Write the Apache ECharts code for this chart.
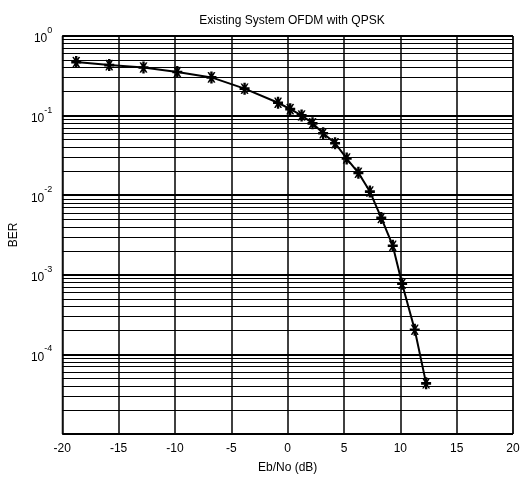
<!DOCTYPE html>
<html>
<head>
<meta charset="utf-8">
<script src="https://cdn.jsdelivr.net/npm/echarts@6/dist/echarts.min.js"></script>
<style>
  html, body { margin: 0; padding: 0; background: #fff; }
  #chart { width: 523px; height: 479px; }
</style>
</head>
<body>
<div id="chart"></div>
<script>
// Eb/No (dB)
var ebno = [-18.76, -15.83, -12.79, -9.79, -6.76, -3.82, -0.85, 0.23, 1.24, 2.21,
            3.15, 4.21, 5.24, 6.28, 7.30, 8.31, 9.33, 10.16, 11.28, 12.29];
// BER values
var ber = [0.470, 0.431, 0.402, 0.353, 0.302, 0.218, 0.145, 0.1205, 0.1005, 0.080,
           0.060, 0.045, 0.0289, 0.0191, 0.0111, 0.00518, 0.00232, 0.000774, 0.000204, 0.0000433];

var xTicks = [-20, -15, -10, -5, 0, 5, 10, 15, 20];
var decades = [1e-5, 1e-4, 1e-3, 1e-2, 1e-1];
var minorSteps = [2, 3, 4, 5, 6, 7, 8, 9];

var font = '"Liberation Sans", Arial, sans-serif';

// minor log grid lines (2..9 in each decade), drawn as segments across the plot
var minorLines = [];
decades.forEach(function (d) {
    minorSteps.forEach(function (k) {
        var v = d * k;
        minorLines.push([{ coord: [-20, v] }, { coord: [20, v] }]);
    });
});

var pts = ebno.map(function (x, i) { return [x, ber[i]]; });

// asterisk marker (bold)
var star = 'path://M3.8,0 L6.2,0 L6.2,10 L3.8,10 Z M0,3.9 L10,3.9 L10,6.1 L0,6.1 Z ' +
    'M1,0.8 L2.6,0.6 L9,9.2 L7.4,9.4 Z M7.4,0.6 L9,0.8 L2.6,9.4 L1,9.2 Z';

var myChart = echarts.init(document.getElementById('chart'));
var option = {
    backgroundColor: '#fff',
    animation: false,
    title: {
        text: 'Existing System OFDM with QPSK',
        left: 287,
        top: 10,
        textAlign: 'center',
        textStyle: { fontFamily: font, fontSize: 12, fontWeight: 'normal', color: '#000' }
    },
    grid: {
        left: 60, right: 10, top: 36, bottom: 42,
        show: true, borderColor: '#000', borderWidth: 1
    },
    xAxis: {
        type: 'value',
        min: -20, max: 20, interval: 5,
        name: 'Eb/No (dB)',
        nameLocation: 'middle',
        nameGap: 28,
        nameTextStyle: { fontFamily: font, fontSize: 12, color: '#000' },
        axisLine: { show: false },
        axisTick: { show: false },
        axisLabel: {
            fontFamily: font, fontSize: 12, color: '#000', margin: 9,
            formatter: function (v) { return xTicks.indexOf(v) >= 0 ? String(v) : ''; }
        },
        splitLine: { show: true, lineStyle: { color: '#000', width: 1.5 } }
    },
    yAxis: {
        type: 'log',
        logBase: 10,
        min: 1e-5, max: 1,
        name: 'BER',
        nameLocation: 'middle',
        nameGap: 40,
        nameTextStyle: { fontFamily: font, fontSize: 12, color: '#000' },
        axisLine: { show: false },
        axisTick: { show: false },
        axisLabel: {
            margin: 10,
            formatter: function (v) {
                var e = Math.round(Math.log10(v));
                if (e <= -5) return '';
                return '{b|10}{e|' + e + '}';
            },
            rich: {
                b: { fontFamily: font, fontSize: 12, color: '#000', padding: [6, 0, 0, 0] },
                e: { fontFamily: font, fontSize: 9, color: '#000', padding: [0, 0, 11, 0] }
            }
        },
        splitLine: { show: true, lineStyle: { color: '#000', width: 2 } }
    },
    series: [
        {
            type: 'line',
            data: pts,
            z: 5,
            symbol: star,
            symbolSize: [10, 12],
            itemStyle: { color: '#000' },
            lineStyle: { color: '#000', width: 2 },
            markLine: {
                silent: true,
                symbol: ['none', 'none'],
                label: { show: false },
                animation: false,
                z: 1,
                lineStyle: { color: '#000', width: 1.2, type: 'solid' },
                data: minorLines
            }
        }
    ]
};
myChart.setOption(option);
</script>
</body>
</html>
